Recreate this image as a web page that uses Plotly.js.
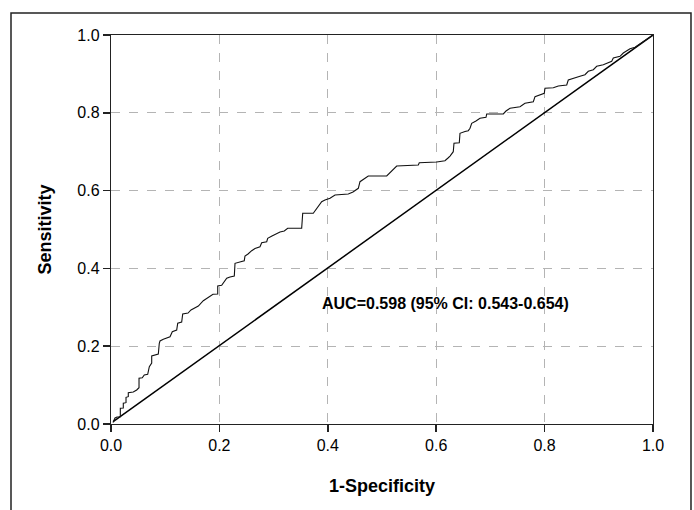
<!DOCTYPE html>
<html>
<head>
<meta charset="utf-8">
<script src="https://cdn.plot.ly/plotly-3.0.1.min.js"></script>
<style>
html,body{margin:0;padding:0;background:#fff;}
#chart{width:694px;height:510px;}
</style>
</head>
<body>
<div id="chart"></div>
<script>
// ROC curve vertices (1-specificity, sensitivity)
const rocFpr = [0.0037,0.0074,0.0111,0.0172,0.0172,0.0227,0.0227,0.0277,0.0277,0.0319,0.0319,0.0411,0.0474,0.0517,0.0517,0.0577,0.0614,0.0677,0.0707,0.0751,0.0751,0.0812,0.0873,0.0891,0.0904,0.0965,0.1033,0.1089,0.1131,0.1212,0.1231,0.1304,0.1323,0.1421,0.1476,0.1513,0.1550,0.1611,0.1703,0.1766,0.1827,0.1882,0.1969,0.1969,0.2042,0.2085,0.2135,0.2196,0.2275,0.2288,0.2380,0.2459,0.2472,0.2528,0.2596,0.2657,0.2749,0.2780,0.2873,0.2891,0.2970,0.3057,0.3118,0.3197,0.3260,0.3518,0.3537,0.3732,0.3801,0.3887,0.3948,0.4041,0.4133,0.4378,0.4465,0.4563,0.4594,0.4668,0.4747,0.5087,0.5148,0.5271,0.5670,0.5688,0.6009,0.6162,0.6218,0.6255,0.6315,0.6328,0.6426,0.6439,0.6531,0.6592,0.6624,0.6655,0.6734,0.6808,0.6919,0.6932,0.7238,0.7288,0.7362,0.7546,0.7638,0.7792,0.7823,0.7994,0.8007,0.8161,0.8253,0.8408,0.8437,0.8561,0.8653,0.8745,0.8806,0.8899,0.8961,0.9083,0.9175,0.9238,0.9268,0.9391,0.9452,0.9576,0.9668,0.9760,0.9884,1.0];
const rocTpr = [0.0039,0.0154,0.0180,0.0188,0.0404,0.0411,0.0532,0.0548,0.0686,0.0702,0.0805,0.0823,0.0874,0.0933,0.1175,0.1190,0.1260,0.1278,0.1473,0.1568,0.1748,0.1774,0.1799,0.2075,0.2134,0.2177,0.2211,0.2244,0.2373,0.2416,0.2589,0.2622,0.2828,0.2853,0.2931,0.2956,0.3000,0.3033,0.3170,0.3221,0.3290,0.3334,0.3342,0.3548,0.3566,0.3658,0.3746,0.3779,0.3805,0.4131,0.4165,0.4198,0.4319,0.4370,0.4455,0.4512,0.4558,0.4661,0.4686,0.4774,0.4833,0.4902,0.4936,0.4961,0.5031,0.5031,0.5416,0.5416,0.5553,0.5715,0.5758,0.5802,0.5887,0.5913,0.5964,0.6059,0.6229,0.6298,0.6375,0.6375,0.6452,0.6632,0.6658,0.6717,0.6735,0.6769,0.6838,0.6889,0.7000,0.7216,0.7231,0.7473,0.7519,0.7540,0.7602,0.7730,0.7789,0.7859,0.7884,0.7969,0.7970,0.8046,0.8116,0.8157,0.8244,0.8285,0.8414,0.8501,0.8630,0.8645,0.8689,0.8715,0.8843,0.8887,0.8938,0.8980,0.9067,0.9108,0.9195,0.9237,0.9280,0.9324,0.9409,0.9452,0.9537,0.9648,0.9684,0.9769,0.9879,1.0];
// Reference (chance) line
const refX = [0.004, 1.0];
const refY = [0.006, 1.0];
const tickVals = [0, 0.2, 0.4, 0.6, 0.8, 1.0];
const tickText = ["0.0", "0.2", "0.4", "0.6", "0.8", "1.0"];
const aucLabel = "AUC=0.598 (95% CI: 0.543-0.654)";
const xTitle = "1-Specificity";
const yTitle = "Sensitivity";

const FONT = '"Liberation Sans", Arial, sans-serif';

const traces = [
  {x: refX, y: refY, mode: 'lines', line: {color: '#000', width: 1.5}, hoverinfo: 'skip', showlegend: false},
  {x: rocFpr, y: rocTpr, mode: 'lines', line: {color: '#111', width: 1.1}, showlegend: false}
];

const axisCommon = {
  range: [0, 1],
  tickvals: tickVals,
  ticktext: tickText,
  showline: true,
  mirror: true,
  linecolor: '#222',
  linewidth: 1.2,
  ticks: 'outside',
  ticklen: 7,
  tickwidth: 1.5,
  tickcolor: '#222',
  showgrid: true,
  gridcolor: '#b4b4b4',
  griddash: 'dash',
  gridwidth: 1,
  zeroline: false,
  fixedrange: true,
  tickfont: {family: FONT, size: 16, color: '#000'}
};

const layout = {
  width: 694,
  height: 510,
  margin: {l: 111, r: 41, t: 35, b: 86},
  paper_bgcolor: '#fff',
  plot_bgcolor: '#fff',
  font: {family: FONT, color: '#000'},
  xaxis: Object.assign({}, axisCommon, {
    title: {text: xTitle, font: {family: FONT, size: 18, weight: 'bold', color: '#000'}, standoff: 26}
  }),
  yaxis: Object.assign({}, axisCommon, {
    title: {text: yTitle, font: {family: FONT, size: 18, weight: 'bold', color: '#000'}, standoff: 21}
  }),
  annotations: [{
    x: 0.386, y: 0.309, xref: 'x', yref: 'y', xanchor: 'left', yanchor: 'middle',
    text: '<b>' + aucLabel + '</b>', showarrow: false,
    font: {family: FONT, size: 16, color: '#000'}
  }],
  shapes: [{
    type: 'rect', xref: 'paper', yref: 'paper',
    x0: -0.1845, x1: 1.0701, y0: -0.32, y1: 1.0566,
    line: {color: '#222', width: 1.5}, fillcolor: 'rgba(0,0,0,0)', layer: 'below'
  }]
};

Plotly.newPlot('chart', traces, layout, {displayModeBar: false, staticPlot: true});
</script>
</body>
</html>
